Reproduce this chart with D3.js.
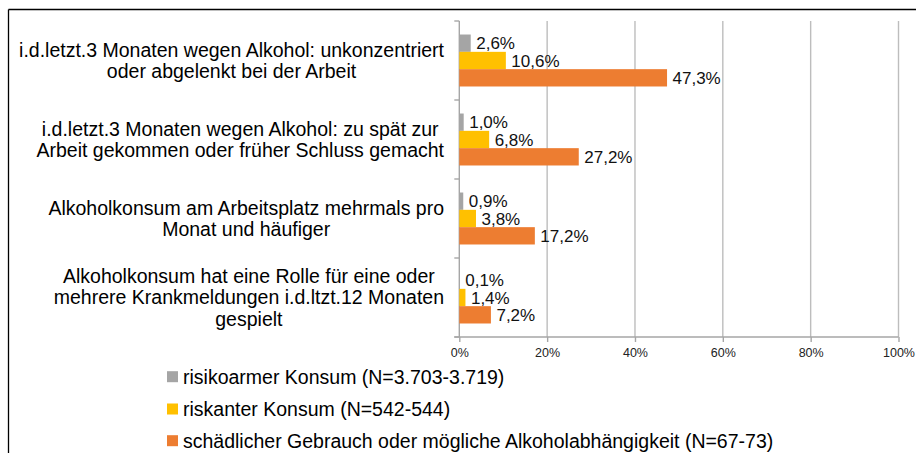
<!DOCTYPE html>
<html lang="de">
<head>
<meta charset="utf-8">
<script src="https://cdn.jsdelivr.net/npm/d3@7"></script>
<style>
  html, body { margin: 0; padding: 0; background: #fff; }
  svg { display: block; }
  text { font-family: "Liberation Sans", Arial, Helvetica, sans-serif; }
</style>
</head>
<body>
<svg id="chart" width="916" height="453"></svg>
<script>
// Categories (each entry holds the wrapped lines of its label)
const categories = [
  ["i.d.letzt.3 Monaten wegen Alkohol: unkonzentriert", "oder abgelenkt bei der Arbeit"],
  ["i.d.letzt.3 Monaten wegen Alkohol: zu spät zur", "Arbeit gekommen oder früher Schluss gemacht"],
  ["Alkoholkonsum am Arbeitsplatz mehrmals pro", "Monat und häufiger"],
  ["Alkoholkonsum hat eine Rolle für eine oder", "mehrere Krankmeldungen i.d.ltzt.12 Monaten", "gespielt"]
];

// Series names and values (percent)
const seriesNames = [
  "risikoarmer Konsum (N=3.703-3.719)",
  "riskanter Konsum (N=542-544)",
  "schädlicher Gebrauch oder mögliche Alkoholabhängigkeit (N=67-73)"
];
const lowRisk   = [2.6, 1.0, 0.9, 0.1];
const risky     = [10.6, 6.8, 3.8, 1.4];
const harmful   = [47.3, 27.2, 17.2, 7.2];
const seriesColors = ["#A5A5A5", "#FFC000", "#ED7D31"];

// Axis ticks
const xTicks = [0, 20, 40, 60, 80, 100];

const seriesValues = [lowRisk, risky, harmful];
const catIds = categories.map((_, i) => i);

const svg = d3.select("#chart");

// Frame lines (top and left)
svg.append("line").attr("x1", 8.5).attr("x2", 916).attr("y1", 9.5).attr("y2", 9.5)
  .attr("stroke", "#000").attr("stroke-width", 1.3);
svg.append("line").attr("x1", 8.5).attr("x2", 8.5).attr("y1", 9.5).attr("y2", 453)
  .attr("stroke", "#000").attr("stroke-width", 1.3);

const plot = { left: 459.3, right: 898.5, top: 21, bottom: 337 };

const x = d3.scaleLinear().domain([0, 100]).range([plot.left, plot.right]);
const y = d3.scaleBand().domain(catIds).range([plot.top, plot.bottom]).padding(0);
const yInner = d3.scaleBand().domain(d3.range(seriesNames.length))
  .range([0, y.bandwidth()]).paddingOuter(0.78).paddingInner(0);

const deLocale = d3.formatLocale({ decimal: ",", thousands: ".", grouping: [3], currency: ["", " €"] });
const fmt = deLocale.format(".1f");

// Vertical gridlines
svg.append("g").selectAll("line").data(xTicks.filter(t => t > 0)).join("line")
  .attr("x1", d => x(d)).attr("x2", d => x(d))
  .attr("y1", plot.top).attr("y2", plot.bottom)
  .attr("stroke", "#BDBDBD").attr("stroke-width", 1.4);

// Bottom axis
const xAxis = d3.axisBottom(x).tickValues(xTicks).tickFormat(d => d + "%")
  .tickSizeInner(5).tickSizeOuter(0).tickPadding(6);
const gx = svg.append("g").attr("transform", `translate(0,${plot.bottom})`).call(xAxis);
gx.select(".domain").remove();
gx.append("line").attr("x1", plot.left - 5).attr("x2", plot.right)
  .attr("y1", 0).attr("y2", 0).attr("stroke", "#A6A6A6").attr("stroke-width", 1.4);
gx.selectAll(".tick line").attr("stroke", "#A6A6A6").attr("stroke-width", 1.4);
gx.selectAll(".tick text").attr("fill", "#222").style("font-size", "12.5px")
  .style("font-family", '"Liberation Sans", Arial, sans-serif');

// Left axis line with ticks at category boundaries
const boundaries = catIds.map(i => y(i)).concat([plot.bottom]);
const gy = svg.append("g");
gy.append("line").attr("x1", plot.left).attr("x2", plot.left)
  .attr("y1", plot.top).attr("y2", plot.bottom)
  .attr("stroke", "#A6A6A6").attr("stroke-width", 1.4);
gy.selectAll("line.tick").data(boundaries).join("line").attr("class", "tick")
  .attr("x1", plot.left - 5).attr("x2", plot.left)
  .attr("y1", d => d).attr("y2", d => d)
  .attr("stroke", "#A6A6A6").attr("stroke-width", 1.4);

// Bars
const groups = svg.append("g").selectAll("g").data(catIds).join("g")
  .attr("transform", d => `translate(0,${y(d)})`);

groups.each(function (ci) {
  const g = d3.select(this);
  const rows = seriesValues.map((vals, si) => ({ si, v: vals[ci] }));
  g.selectAll("rect").data(rows).join("rect")
    .attr("x", x(0))
    .attr("y", d => yInner(d.si))
    .attr("width", d => x(d.v) - x(0))
    .attr("height", yInner.bandwidth())
    .attr("fill", d => seriesColors[d.si]);
  g.selectAll("text.val").data(rows).join("text").attr("class", "val")
    .attr("x", d => x(d.v) + 5.5)
    .attr("y", d => yInner(d.si) + yInner.bandwidth() / 2)
    .attr("dy", "0.36em")
    .attr("fill", "#111")
    .style("font-size", "17px")
    .text(d => fmt(d.v) + "%");
});

// Category labels: block right-aligned to the axis, lines centred inside the block
const labelRight = 444;
const lineH = 21.5;
const catLabels = svg.append("g").selectAll("g").data(catIds).join("g");
catLabels.each(function (ci) {
  const g = d3.select(this);
  const lines = categories[ci];
  const cy = y(ci) + y.bandwidth() / 2;
  const texts = g.selectAll("text").data(lines).join("text")
    .attr("text-anchor", "middle")
    .attr("fill", "#000")
    .style("font-size", "19.5px")
    .attr("y", (d, i) => cy + (i - (lines.length - 1) / 2) * lineH)
    .attr("dy", "0.35em")
    .text(d => d);
  let maxW = 0;
  texts.each(function () { maxW = Math.max(maxW, this.getComputedTextLength()); });
  texts.attr("x", labelRight - maxW / 2);
});

// Legend
const legendRows = [376.7, 409, 440.7];
const legend = svg.append("g").selectAll("g").data(seriesNames).join("g")
  .attr("transform", (d, i) => `translate(167,${legendRows[i]})`);
legend.append("rect").attr("x", 0).attr("y", -5.5).attr("width", 11).attr("height", 11)
  .attr("fill", (d, i) => seriesColors[i]);
legend.append("text").attr("x", 16).attr("y", 0).attr("dy", "0.35em")
  .attr("fill", "#000").style("font-size", "19.5px")
  .text(d => d);
</script>
</body>
</html>
